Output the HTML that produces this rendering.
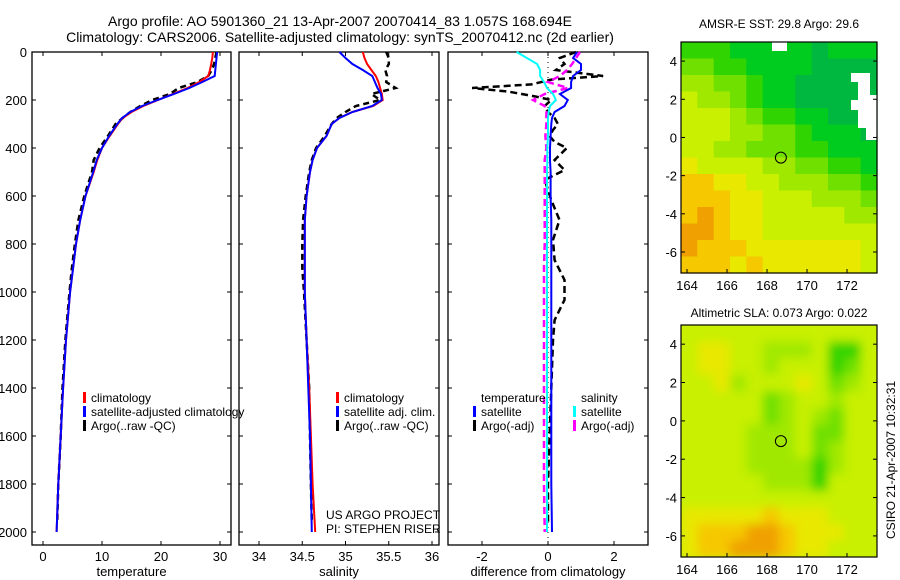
<!DOCTYPE html>
<html><head><meta charset="utf-8">
<style>
body{margin:0;background:#fff;}
svg{display:block;font-family:"Liberation Sans",sans-serif;}
text{fill:#000;}
</style></head>
<body>
<svg id="fig" width="900" height="580" viewBox="0 0 900 580" xmlns="http://www.w3.org/2000/svg">
<defs><clipPath id="clipSla"><rect x="681" y="325" width="196" height="232"/></clipPath><filter id="soft"><feGaussianBlur stdDeviation="5"/></filter></defs>
<text x="340" y="26" font-size="14" text-anchor="middle">Argo profile: AO 5901360_21 13-Apr-2007 20070414_83 1.057S 168.694E</text>
<text x="340" y="42" font-size="14" text-anchor="middle">Climatology: CARS2006. Satellite-adjusted climatology: synTS_20070412.nc (2d earlier)</text>
<text x="779" y="28" font-size="12" text-anchor="middle">AMSR-E SST: 29.8 Argo: 29.6</text>
<text x="779" y="317" font-size="12" text-anchor="middle">Altimetric SLA: 0.073 Argo: 0.022</text>
<text transform="translate(895,460) rotate(-90)" font-size="12" text-anchor="middle">CSIRO 21-Apr-2007 10:32:31</text>
<g id="plots"></g>
</svg>
<script>
// ---------- data ----------
const depths = [0,25,50,75,100,125,150,175,200,225,250,275,300,350,400,450,500,600,700,800,900,1000,1200,1400,1600,1800,2000];
const tempClim = [28.8,28.7,28.5,28.3,28.0,26.5,24.5,22.0,19.5,17.0,15.0,13.5,12.7,11.3,10.0,9.2,8.6,7.2,6.3,5.6,5.1,4.6,3.9,3.4,3.0,2.6,2.3];
const tempSat = [29.5,29.4,29.3,29.2,29.1,27.0,24.8,22.2,19.4,16.8,14.8,13.4,12.6,11.2,10.0,9.1,8.5,7.2,6.3,5.6,5.1,4.6,3.9,3.4,3.0,2.6,2.3];
const argoDepths = [0,25,50,75,100,125,150,175,200,225,250,275,300,350,400,450,500,600,700,800,900,1000,1200,1400,1600,1800,1960];
const tempArgo = [29.4,29.2,29.0,28.6,28.0,26.2,23.0,21.5,18.5,16.5,14.8,13.5,12.3,11.0,9.6,8.6,8.3,7.0,6.0,5.4,4.9,4.5,3.8,3.3,3.0,2.6,2.4];
const salClim = [35.20,35.22,35.25,35.30,35.35,35.38,35.40,35.42,35.43,35.32,35.08,34.93,34.84,34.78,34.67,34.62,34.59,34.55,34.53,34.53,34.53,34.53,34.55,34.58,34.60,34.62,34.65];
const salSat = [34.93,35.00,35.08,35.20,35.31,35.34,35.37,35.41,35.42,35.31,35.08,34.93,34.84,34.78,34.67,34.62,34.59,34.55,34.53,34.53,34.53,34.53,34.55,34.57,34.59,34.60,34.61];
const salArgo = [35.47,35.50,35.50,35.46,35.48,35.47,35.58,35.30,35.40,35.12,35.00,34.90,34.84,34.76,34.66,34.61,34.58,34.54,34.51,34.50,34.50,34.52,34.55,34.58,34.59,34.60,34.61];
const dTempSat = [0.88,0.76,1.0,1.0,0.76,0.7,0.7,0.36,0.6,0.5,0.2,0.12,0.1,0.08,0.06,0.06,0.08,0.08,0.1,0.1,0.1,0.1,0.1,0.1,0.1,0.1,0.12];
const dSalSat = [-0.95,-0.64,-0.33,-0.24,-0.24,-0.12,-0.03,0.15,0.24,0.06,0.02,0,0,0,-0.02,-0.02,-0.03,-0.03,-0.03,-0.03,-0.03,-0.03,-0.03,-0.03,-0.03,-0.03,-0.03];
const dSalArgo = [0.97,0.85,0.73,0.58,0.36,0,0.6,-0.1,-0.45,-0.1,-0.05,-0.05,-0.05,-0.08,-0.05,-0.1,-0.1,-0.1,-0.1,-0.1,-0.12,-0.12,-0.12,-0.12,-0.12,-0.12,-0.1];
const dArgoDepths = [0,25,50,75,100,115,135,150,165,185,200,225,250,275,300,325,350,375,400,450,492,533,617,700,783,867,950,1033,1117,1200,1400,1600,1800,1960];
const dTempArgo = [0.85,0.36,0.5,0.24,1.67,0.1,-0.5,-2.3,-1.2,-0.4,0.1,-0.1,0.0,0.2,0.3,0.15,0.05,0.2,0.57,0.2,0.5,-0.1,0.1,0.35,0.15,0.2,0.5,0.5,0.2,0.15,0.1,0.05,0.0,0.0];
const yTicks = [0,200,400,600,800,1000,1200,1400,1600,1800,2000];
const tTicks = [0,10,20,30];
const sTicks = [34,34.5,35,35.5,36];
const dTicks = [-2,0,2];
const mapLonTicks = [164,166,168,170,172];
const mapLatTicks = [4,2,0,-2,-4,-6];
const sstGrid = [
"333222221222","443322221111","554432211111","655432211111","666543322111","666554432221",
"665544433222","766665544332","887766555443","888776665554","898776666655","998776666666",
"988877777776","888787777776"];
const slaGrid = [
"666666666666","677665556336","677665666346","667566676456","666664566566","666664565466",
"666655564466","666655564566","666655553566","666665553666","666666666666","777778777666",
"788899877766","788999877666"];
const floatLon = 168.694, floatLat = -1.057;

// ---------- helpers ----------
const NS="http://www.w3.org/2000/svg";
const root=document.getElementById('plots');
function mk(tag,attrs,parent){const e=document.createElementNS(NS,tag);for(const k in attrs)e.setAttribute(k,attrs[k]);(parent||root).appendChild(e);return e;}
const Y0=52, PY=0.24, BOT=545;
const yScale=d=>Y0+d*PY;
function panel(x0,x1,xs,ticks,label,name,tickFmt){
  const g=mk('g',{});
  
  
  mk('rect',{x:x0,y:Y0,width:x1-x0,height:BOT-Y0,fill:'none',stroke:'#000','stroke-width':1.3},g);
  yTicks.forEach(v=>{const y=yScale(v);
    mk('line',{x1:x0,x2:x0+4,y1:y,y2:y,stroke:'#000'},g);
    mk('line',{x1:x1-4,x2:x1,y1:y,y2:y,stroke:'#000'},g);});
  ticks.forEach(v=>{const x=xs(v);
    mk('line',{x1:x,x2:x,y1:Y0,y2:Y0+4,stroke:'#000'},g);
    mk('line',{x1:x,x2:x,y1:BOT-4,y2:BOT,stroke:'#000'},g);
    const t=mk('text',{x:x,y:BOT+16,'font-size':13,'text-anchor':'middle'},g);t.textContent=tickFmt?tickFmt(v):v;
    
    });
  const t=mk('text',{x:(x0+x1)/2,y:576,'font-size':13,'text-anchor':'middle'},g);t.textContent=label;
  
  
  return g;
}
function line(g,xs,vals,ds,color,w,dash,name){
  const pts=vals.map((v,i)=>xs(v).toFixed(1)+','+yScale(ds[i]).toFixed(1)).join(' ');
  const p=mk('polyline',{points:pts,fill:'none',stroke:color,'stroke-width':w},g);
  if(dash)p.setAttribute('stroke-dasharray',dash);
  
  
}
function legend(g,x,y,color,text,name){
  mk('rect',{x:x,y:y-10,width:3,height:11,fill:color},g);
  const t=mk('text',{x:x+8,y:y,'font-size':12},g);t.textContent=text;
  
  
}

// ---------- temperature panel ----------
const xT=v=>43+v*5.9;
const gT=panel(32,231,xT,tTicks,'temperature','temperature-panel');
yTicks.forEach(v=>{const t=mk('text',{x:27,y:yScale(v)+5,'font-size':13,'text-anchor':'end'});t.textContent=v;
  
  });
line(gT,xT,tempArgo,argoDepths,'#000',2.5,'6,4','temp-argo-line');
line(gT,xT,tempClim,depths,'#f00',2,null,'temp-climatology-line');
line(gT,xT,tempSat,depths,'#00f',2,null,'temp-satellite-line');
legend(gT,83,402,'#f00','climatology','legend-climatology');
legend(gT,83,416,'#00f','satellite-adjusted climatology','legend-satellite');
legend(gT,83,430,'#000','Argo(..raw -QC)','legend-argo');

// ---------- salinity panel ----------
const xS=v=>259+(v-34)*86.5;
const gS=panel(239,439,xS,sTicks,'salinity','salinity-panel');
line(gS,xS,salArgo,argoDepths,'#000',2.5,'6,4','sal-argo-line');
line(gS,xS,salClim,depths,'#f00',2,null,'sal-climatology-line');
line(gS,xS,salSat,depths,'#00f',2,null,'sal-satellite-line');
legend(gS,336,402,'#f00','climatology','legend-climatology');
legend(gS,336,416,'#00f','satellite adj. clim.','legend-satellite');
legend(gS,336,430,'#000','Argo(..raw -QC)','legend-argo');
const c1=mk('text',{x:326,y:519,'font-size':12},gS);c1.textContent='US ARGO PROJECT';


const c2=mk('text',{x:326,y:533,'font-size':12},gS);c2.textContent='PI: STEPHEN RISER';



// ---------- difference panel ----------
const xD=v=>548+v*33;
const gD=panel(448,648,xD,dTicks,'difference from climatology','difference-panel');
mk('line',{x1:548,x2:548,y1:Y0,y2:BOT,stroke:'#000','stroke-dasharray':'1,4'},gD);
line(gD,xD,dTempArgo,dArgoDepths,'#000',2.5,'7,4','dtemp-argo-line');
line(gD,xD,dSalArgo,depths,'#f0f',2.5,'7,4','dsal-argo-line');
line(gD,xD,dTempSat,depths,'#00f',2,null,'dtemp-satellite-line');
line(gD,xD,dSalSat,depths,'#0ff',2,null,'dsal-satellite-line');
const lt=mk('text',{x:481,y:402,'font-size':12},gD);lt.textContent='temperature';


const ls=mk('text',{x:581,y:402,'font-size':12},gD);ls.textContent='salinity';


legend(gD,473,416,'#00f','satellite','legend-temp-satellite');
legend(gD,473,430,'#000','Argo(-adj)','legend-temp-argo');
legend(gD,573,416,'#0ff','satellite','legend-sal-satellite');
legend(gD,573,430,'#f0f','Argo(-adj)','legend-sal-argo');

// ---------- maps ----------
const ramp=['#00a848','#00b840','#00cc20','#30d400','#70e000','#a0e800','#c8f000','#e8e800','#f6c800','#f0a000'];
function map(top,bottom,grid,name,extra,smooth){
  const L=681,R=877;
  const lonX=v=>687+(v-164)*20;
  const latY=v=>top+(5-v)*((bottom-top)/12.1);
  const g=mk('g',{});
  
  
  let cg=g;
  if(smooth){const outer=mk('g',{'clip-path':'url(#clipSla)'},g);
    mk('rect',{x:L,y:top,width:R-L,height:bottom-top,fill:ramp[6]},outer);
    cg=mk('g',{filter:'url(#soft)'},outer);}
  const rows=grid.length, cols=grid[0].length;
  const cw=(R-L)/cols, ch=(bottom-top)/rows;
  grid.forEach((row,r)=>{for(let c=0;c<cols;c++){
    mk('rect',{x:(L+c*cw).toFixed(1),y:(top+r*ch).toFixed(1),width:(cw+0.6).toFixed(1),height:(ch+0.6).toFixed(1),fill:ramp[+row[c]]},cg);}});
  if(extra)extra(g,latY);
  mk('rect',{x:L,y:top,width:R-L,height:bottom-top,fill:'none',stroke:'#000','stroke-width':1.2},g);
  mapLonTicks.forEach(v=>{const x=lonX(v);
    mk('line',{x1:x,x2:x,y1:bottom-4,y2:bottom,stroke:'#000'},g);
    const t=mk('text',{x:x,y:bottom+17,'font-size':13,'text-anchor':'middle'},g);t.textContent=v;
    
    });
  mapLatTicks.forEach(v=>{const y=latY(v);
    mk('line',{x1:L,x2:L+4,y1:y,y2:y,stroke:'#000'},g);
    mk('line',{x1:R-4,x2:R,y1:y,y2:y,stroke:'#000'},g);
    const t=mk('text',{x:677,y:y+5,'font-size':13,'text-anchor':'end'},g);t.textContent=v;
    
    });
  const m=mk('circle',{cx:lonX(floatLon),cy:latY(floatLat),r:5.5,fill:'none',stroke:'#000','stroke-width':1},g);
  
  
}
map(42,273,sstGrid,'sst-map',(g)=>{
  mk('rect',{x:772,y:42,width:15,height:9,fill:'#fff'},g);
  mk('path',{d:'M851 73 H870 V95 H877 V140 H866 V128 H858 V110 H851 V100 H858 V82 H851 Z',fill:'#fff'},g);
},false);
map(325,557,slaGrid,'sla-map',null,true);
</script>
</body></html>
